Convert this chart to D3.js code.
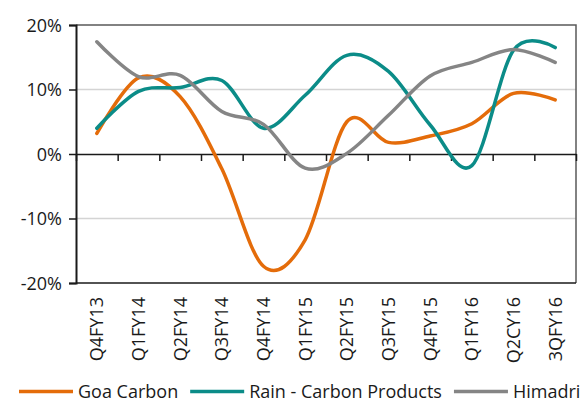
<!DOCTYPE html>
<html>
<head>
<meta charset="utf-8">
<script src="https://cdn.jsdelivr.net/npm/d3@7"></script>
<style>
  body { margin: 0; background: #fff; }
  svg text { font-family: "Open Sans", sans-serif; font-size: 18px; fill: #1a1a1a; }
</style>
</head>
<body>
<script>
var quarters = ["Q4FY13","Q1FY14","Q2FY14","Q3FY14","Q4FY14","Q1FY15","Q2FY15","Q3FY15","Q4FY15","Q1FY16","Q2CY16","3QFY16"];
var goaCarbon = [3.2, 11.8, 8.9, -2.3, -17.4, -13.3, 5.0, 1.8, 2.8, 4.7, 9.4, 8.4];
var rainCarbon = [4.0, 9.7, 10.3, 11.4, 4.0, 9.1, 15.3, 12.8, 4.5, -1.8, 16.1, 16.5];
var himadri = [17.4, 12.0, 12.2, 6.6, 4.6, -2.2, 0.1, 6.0, 12.1, 14.2, 16.2, 14.2];
var yTicks = [-20, -10, 0, 10, 20];

var series = [
  {name: "Goa Carbon", values: goaCarbon, color: "#e46c0a"},
  {name: "Rain - Carbon Products", values: rainCarbon, color: "#0b8c88"},
  {name: "Himadri", values: himadri, color: "#858585"}
];

var margin = {top: 25, right: 6, bottom: 119, left: 76},
    width = 582 - margin.left - margin.right,
    height = 402 - margin.top - margin.bottom;

var svg = d3.select("body").append("svg")
    .attr("width", 582)
    .attr("height", 402);

var g = svg.append("g")
    .attr("transform", "translate(" + margin.left + "," + margin.top + ")");

var x = d3.scaleBand().domain(quarters).range([0, width]).padding(0);
var xEdge = d3.scaleLinear().domain([0, quarters.length]).range([0, width]);
var y = d3.scaleLinear().domain([-20, 20]).range([height, 0]);

// gridlines
g.selectAll(".grid")
  .data(yTicks.filter(function(d) { return d !== 0 && Math.abs(d) !== 20; }))
  .enter().append("line")
    .attr("x1", 0).attr("x2", width)
    .attr("y1", function(d) { return y(d); })
    .attr("y2", function(d) { return y(d); })
    .attr("stroke", "#d4d4d4")
    .attr("stroke-width", 1.5);

// plot border (top + right)
g.append("path")
  .attr("d", "M0,0H" + width + "V" + height)
  .attr("fill", "none")
  .attr("stroke", "#595959")
  .attr("stroke-width", 1.5);

g.append("line")
  .attr("x1", 0).attr("x2", width)
  .attr("y1", height).attr("y2", height)
  .attr("stroke", "#1a1a1a").attr("stroke-width", 1.5);

// y axis
var yAxis = d3.axisLeft(y).tickValues(yTicks).tickSize(7).tickPadding(7)
  .tickFormat(function(d) { return d + "%"; });
var yg = g.append("g").call(yAxis);
yg.select(".domain").attr("stroke", "#1a1a1a").attr("stroke-width", 2);
yg.selectAll(".tick line").attr("stroke", "#1a1a1a").attr("stroke-width", 1.5);
yg.selectAll("text").attr("dy", "0.36em");
yg.attr("font-size", null).attr("font-family", null);

// zero axis with category ticks
var xAxis = d3.axisBottom(xEdge).tickValues(d3.range(quarters.length + 1))
  .tickSize(7).tickSizeOuter(0).tickFormat("");
var xg = g.append("g").attr("transform", "translate(0," + y(0) + ")").call(xAxis);
xg.select(".domain").attr("stroke", "#1a1a1a").attr("stroke-width", 1.5);
xg.selectAll(".tick line").attr("stroke", "#1a1a1a").attr("stroke-width", 1.5);

// category labels
g.selectAll(".xlabel")
  .data(quarters)
  .enter().append("text")
    .attr("class", "xlabel")
    .attr("text-anchor", "end")
    .attr("dy", "0.36em")
    .attr("transform", function(d) {
      return "translate(" + (x(d) + x.bandwidth() / 2) + "," + (height + 14) + ") rotate(-90)";
    })
    .text(function(d) { return d; });

// lines
var line = d3.line()
  .x(function(d, i) { return x(quarters[i]) + x.bandwidth() / 2; })
  .y(function(d) { return y(d); })
  .curve(d3.curveCardinal.tension(0));

g.selectAll(".series")
  .data(series)
  .enter().append("path")
    .attr("class", "series")
    .attr("d", function(d) { return line(d.values); })
    .attr("fill", "none")
    .attr("stroke", function(d) { return d.color; })
    .attr("stroke-width", 3.5)
    .attr("stroke-linecap", "round");

// legend
var legend = svg.append("g").attr("transform", "translate(19,391.5)");
var lx = 0;
series.forEach(function(s) {
  var item = legend.append("g").attr("transform", "translate(" + lx + ",0)");
  item.append("line")
    .attr("x1", 0).attr("x2", 54)
    .attr("stroke", s.color).attr("stroke-width", 3.5);
  var t = item.append("text")
    .attr("x", 59).attr("y", 6)
    .text(s.name);
  lx += 59 + t.node().getComputedTextLength() + 12;
});
</script>
</body>
</html>
